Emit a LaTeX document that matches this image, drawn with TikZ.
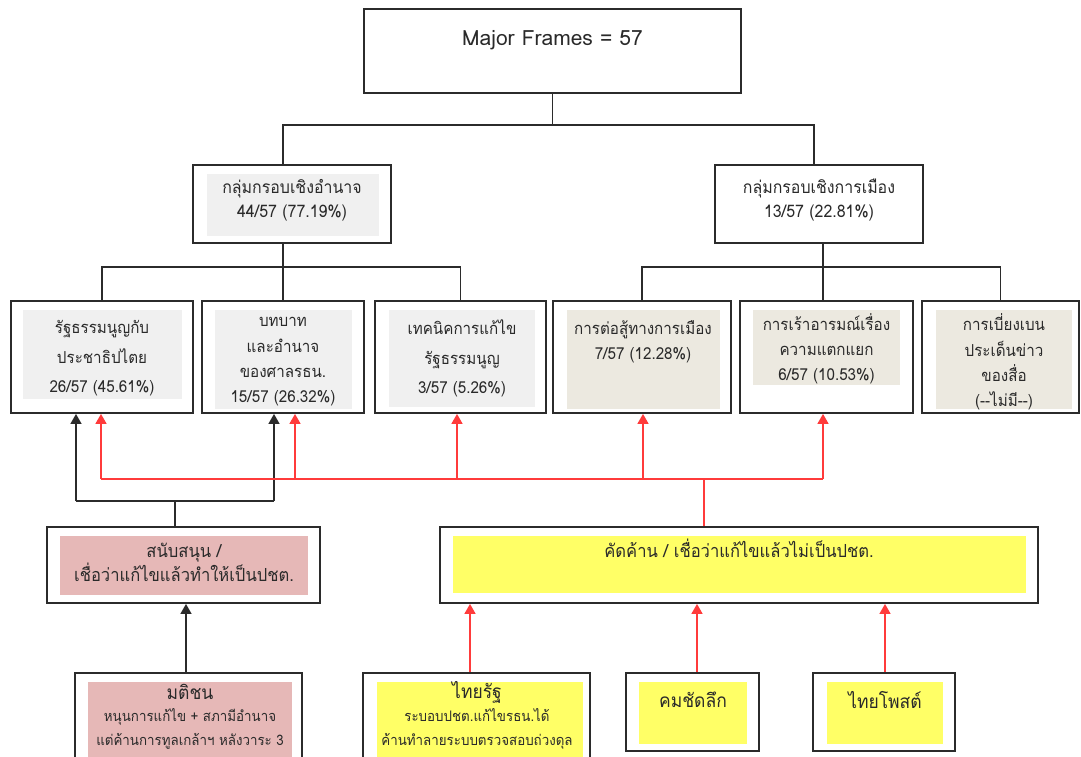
\documentclass[tikz,border=0pt]{standalone}
\usepackage{fontspec}
\setmainfont[FakeStretch=0.85]{DejaVu Sans}
\newfontfamily\thai[Script=Thai,FakeStretch=0.92]{Loma}
\newfontfamily\thaiw[Script=Thai]{Loma}
\usetikzlibrary{arrows.meta}
\definecolor{boxline}{HTML}{2B2B2B}
\definecolor{fgray}{HTML}{F0F0F0}
\definecolor{fbeige}{HTML}{ECE9E0}
\definecolor{fpink}{HTML}{E6B8B7}
\definecolor{fyellow}{HTML}{FFFF66}
\definecolor{conred}{HTML}{FF3B3B}
\definecolor{txt}{HTML}{2A2A2A}
\tikzset{
  box/.style={draw=boxline, line width=1.8pt, inner sep=0pt, fill=white},
  lbl/.style={text=txt, inner sep=0pt, align=center, font=\thai\fontsize{16}{25}\selectfont},
  blk/.style={draw=boxline, line width=1.4pt},
  redl/.style={draw=conred, line width=1.6pt},
  tip/.style={-{Triangle[width=11pt,length=10pt]}}
}
\begin{document}
\begin{tikzpicture}[x=1pt,y=-1pt]
\useasboundingbox (0,0) rectangle (1081,756);
\clip (0,0) rectangle (1081,756);
% ---------- boxes ----------
\node[box, minimum width=377pt, minimum height=84pt] (top) at (552.5,51) {};
\node[box, minimum width=198pt, minimum height=78pt] (mid1) at (292,204) {};
\node[box, minimum width=208pt, minimum height=78pt] (mid2) at (819,204) {};
\node[box, minimum width=182pt, minimum height=112pt] (b1) at (102,357) {};
\node[box, minimum width=162pt, minimum height=112pt] (b2) at (283,357) {};
\node[box, minimum width=171pt, minimum height=112pt] (b3) at (460.5,357) {};
\node[box, minimum width=178pt, minimum height=112pt] (b4) at (642,357) {};
\node[box, minimum width=173pt, minimum height=112pt] (b5) at (826.5,357) {};
\node[box, minimum width=157pt, minimum height=112pt] (b6) at (1000.5,357) {};
\node[box, minimum width=273pt, minimum height=76pt] (sup) at (183.5,565) {};
\node[box, minimum width=598pt, minimum height=76pt] (opp) at (739,565) {};
\node[box, minimum width=227pt, minimum height=107pt] (m1) at (188.5,726.5) {};
\node[box, minimum width=227pt, minimum height=107pt] (m2) at (476.5,726.5) {};
\node[box, minimum width=133pt, minimum height=78pt] (m3) at (692.5,712) {};
\node[box, minimum width=142pt, minimum height=78pt] (m4) at (884,712) {};
% ---------- inner fills ----------
\fill[fgray] (207,174) rectangle (379,236);
\fill[fgray] (23,310) rectangle (182,399);
\fill[fgray] (215,310) rectangle (352,409);
\fill[fgray] (389,310) rectangle (535,407);
\fill[fbeige] (567,310) rectangle (720,409);
\fill[fbeige] (753,310) rectangle (900,385);
\fill[fbeige] (936,310) rectangle (1072,409);
\fill[fpink] (60,536) rectangle (308,595);
\fill[fyellow] (453,536) rectangle (1026,593);
\fill[fpink] (88,682) rectangle (292,780);
\fill[fyellow] (377,682) rectangle (583,780);
\fill[fyellow] (639,682) rectangle (747,744);
\fill[fyellow] (827,682) rectangle (943,744);
% ---------- texts ----------
\node[lbl, font=\thaiw\fontsize{21}{24}\selectfont] (ttop) at (552.5,40) {Major Frames = 57};
\node[lbl, font=\thai\fontsize{17.3}{24}\selectfont] (tmid1) at (292,200) {กลุ่มกรอบเชิงอำนาจ\\44/57 (77.19\%)};
\node[lbl, font=\thai\fontsize{17.3}{24}\selectfont] (tmid2) at (819,200) {กลุ่มกรอบเชิงการเมือง\\13/57 (22.81\%)};
\node[lbl, font=\thai\fontsize{16.5}{29.5}\selectfont] (tb1) at (102,358.5) {รัฐธรรมนูญกับ\\ประชาธิปไตย\\26/57 (45.61\%)};
\node[lbl, font=\thai\fontsize{16.5}{25.3}\selectfont] (tb2) at (283,362) {บทบาท\\และอำนาจ\\ของศาลรธน.\\15/57 (26.32\%)};
\node[lbl, font=\thai\fontsize{16.5}{29.5}\selectfont] (tb3) at (462,358.5) {เทคนิคการแก้ไข\\รัฐธรรมนูญ\\3/57 (5.26\%)};
\node[lbl, font=\thai\fontsize{16.5}{25}\selectfont] (tb4) at (643,341.5) {การต่อสู้ทางการเมือง\\7/57 (12.28\%)};
\node[lbl, font=\thai\fontsize{16.5}{25}\selectfont] (tb5) at (826.5,349) {การเร้าอารมณ์เรื่อง\\ความแตกแยก\\6/57 (10.53\%)};
\node[lbl, font=\thai\fontsize{16.5}{25.3}\selectfont] (tb6) at (1004,362) {การเบี่ยงเบน\\ประเด็นข่าว\\ของสื่อ\\(--ไม่มี--)};
\node[lbl, font=\thai\fontsize{18}{24}\selectfont] (tsup) at (184,562) {สนับสนุน /\\เชื่อว่าแก้ไขแล้วทำให้เป็นปชต.};
\node[lbl, font=\thai\fontsize{18}{24}\selectfont] (topp) at (739,548) {คัดค้าน / เชื่อว่าแก้ไขแล้วไม่เป็นปชต.};
\node[lbl, font=\thai\fontsize{19}{20}\selectfont] (tm1a) at (190,692) {มติชน};
\node[lbl, font=\thai\fontsize{14.5}{24}\selectfont] (tm1b) at (190,729) {หนุนการแก้ไข + สภามีอำนาจ\\แต่ค้านการทูลเกล้าฯ หลังวาระ 3};
\node[lbl, font=\thai\fontsize{19}{20}\selectfont] (tm2a) at (477,692) {ไทยรัฐ};
\node[lbl, font=\thai\fontsize{14.5}{24}\selectfont] (tm2b) at (477,729) {ระบอบปชต.แก้ไขรธน.ได้\\ค้านทำลายระบบตรวจสอบถ่วงดุล};
\node[lbl, font=\thai\fontsize{19}{20}\selectfont] (tm3) at (693,700) {คมชัดลึก};
\node[lbl, font=\thai\fontsize{19}{20}\selectfont] (tm4) at (885,700) {ไทยโพสต์};
% ---------- tree connectors ----------
\coordinate (s1) at (283,125);
\coordinate (s2) at (814,125);
\draw[blk] (top.south) -- (top.south |- s1);
\draw[blk] (s1 |- mid1.north) -- (s1) -- (s2) -- (s2 |- mid2.north);
\coordinate (h1) at (283,267);
\coordinate (h2) at (823,267);
\draw[blk] (h1 |- mid1.south) -- (h1);
\draw[blk] (b1.north) -- (b1.north |- h1) -- (b3.north |- h1) -- (b3.north);
\draw[blk] (h1) -- (h1 |- b2.north);
\draw[blk] (h2 |- mid2.south) -- (h2);
\draw[blk] (b4.north) -- (b4.north |- h2) -- (b6.north |- h2) -- (b6.north);
\draw[blk] (h2) -- (h2 |- b5.north);
% ---------- support (black) ----------
\coordinate (k0) at (175,501);
\coordinate (kL) at (76,501);
\coordinate (kR) at (274,501);
\draw[blk] (k0 |- sup.north) -- (k0);
\draw[blk] (kL) -- (kR);
\draw[blk,tip] (kL) -- (kL |- b1.south);
\draw[blk,tip] (kR) -- (kR |- b2.south);
% ---------- oppose (red) ----------
\coordinate (r0) at (704,479);
\coordinate (r1) at (101,479);
\coordinate (r2) at (295,479);
\coordinate (r3) at (457,479);
\coordinate (r4) at (643,479);
\coordinate (r5) at (823,479);
\draw[redl] (r0 |- opp.north) -- (r0);
\draw[redl] (r1) -- (r5);
\draw[redl,tip] (r1) -- (r1 |- b1.south);
\draw[redl,tip] (r2) -- (r2 |- b2.south);
\draw[redl,tip] (r3) -- (r3 |- b3.south);
\draw[redl,tip] (r4) -- (r4 |- b4.south);
\draw[redl,tip] (r5) -- (r5 |- b5.south);
% ---------- newspapers ----------
\coordinate (p1) at (186,673);
\coordinate (p2) at (470,673);
\coordinate (p3) at (697,673);
\coordinate (p4) at (885,673);
\draw[blk,tip] (p1 |- m1.north) -- (p1 |- sup.south);
\draw[redl,tip] (p2 |- m2.north) -- (p2 |- opp.south);
\draw[redl,tip] (p3 |- m3.north) -- (p3 |- opp.south);
\draw[redl,tip] (p4 |- m4.north) -- (p4 |- opp.south);
\end{tikzpicture}
\end{document}
